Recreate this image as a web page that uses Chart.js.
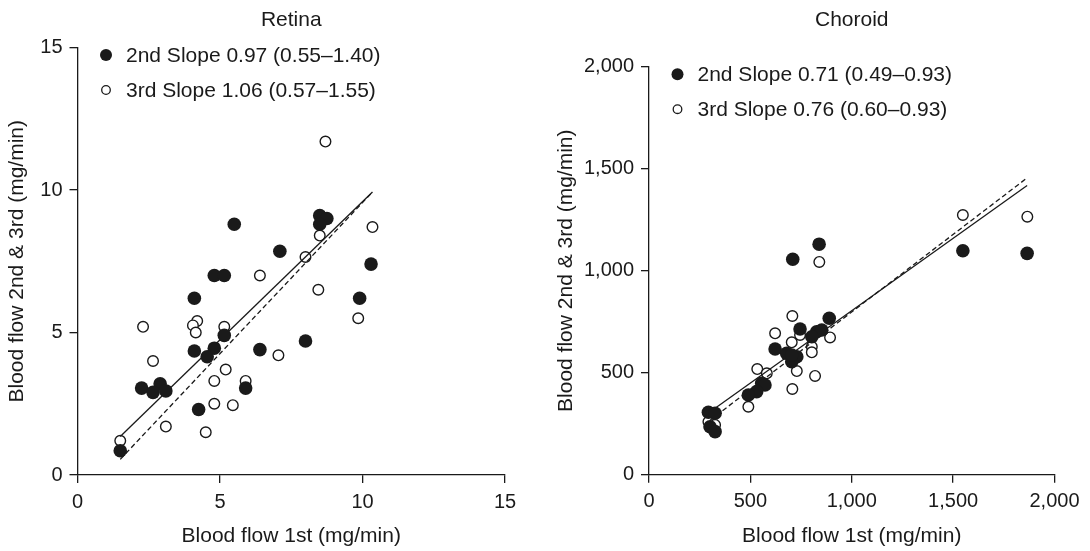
<!DOCTYPE html>
<html>
<head>
<meta charset="utf-8">
<script src="https://cdn.jsdelivr.net/npm/chart.js@4/dist/chart.umd.min.js"></script>
<style>
  html, body { margin: 0; padding: 0; background: #fff; }
  #wrap { position: relative; width: 1090px; height: 551px; }
  canvas { position: absolute; top: 0; }
  #retina  { left: 0; }
  #choroid { left: 545px; }
</style>
</head>
<body>
<div id="wrap">
  <canvas id="retina" width="545" height="551"></canvas>
  <canvas id="choroid" width="545" height="551"></canvas>
</div>
<script>
// ── Data ───────────────────────────────────────────────────────────────────
const retinaTitle  = 'Retina';
const choroidTitle = 'Choroid';
const xTitle = 'Blood flow 1st (mg/min)';
const yTitle = 'Blood flow 2nd & 3rd (mg/min)';

const retinaLegend  = ['2nd Slope 0.97 (0.55–1.40)', '3rd Slope 1.06 (0.57–1.55)'];
const choroidLegend = ['2nd Slope 0.71 (0.49–0.93)', '3rd Slope 0.76 (0.60–0.93)'];

const retinaTicks  = [0, 5, 10, 15];
const choroidTicks = [0, 500, 1000, 1500, 2000];

// [1st, 2nd]
const retina2nd = [
  [8.5, 9.1], [8.75, 9.0], [8.5, 8.8], [5.5, 8.8], [7.1, 7.85], [4.8, 7.0], [5.15, 7.0],
  [10.3, 7.4], [4.1, 6.2], [9.9, 6.2], [5.15, 4.9], [4.1, 4.35], [4.8, 4.45], [4.55, 4.15],
  [6.4, 4.4], [8.0, 4.7], [5.9, 3.05], [2.25, 3.05], [2.9, 3.2], [2.65, 2.9], [3.1, 2.95],
  [4.25, 2.3], [1.5, 0.85]
];
// [1st, 3rd]
const retina3rd = [
  [8.7, 11.7], [8.5, 8.4], [10.35, 8.7], [8.0, 7.65], [6.4, 7.0], [8.45, 6.5], [9.85, 5.5],
  [2.3, 5.2], [4.2, 5.4], [4.05, 5.25], [4.15, 5.0], [5.15, 5.2], [7.05, 4.2], [2.65, 4.0],
  [5.2, 3.7], [4.8, 3.3], [5.9, 3.3], [4.8, 2.5], [5.45, 2.45], [3.1, 1.7], [4.5, 1.5], [1.5, 1.2]
];
const retinaFit2nd = [[1.5, 1.35], [10.35, 9.93]];
const retinaFit3rd = [[1.5, 0.55], [10.35, 9.93]];

const choroid2nd = [
  [1548, 1098], [1865, 1085], [839, 1130], [709, 1056], [889, 767], [745, 714], [827, 701],
  [852, 709], [803, 676], [622, 616], [679, 595], [729, 578], [704, 554], [704, 587],
  [556, 448], [572, 440], [531, 407], [490, 391], [293, 306], [326, 301], [301, 235], [326, 211]
];
const choroid3rd = [
  [1548, 1273], [1866, 1265], [840, 1043], [707, 778], [893, 673], [745, 685], [803, 627],
  [803, 600], [704, 649], [729, 508], [819, 484], [622, 693], [707, 420], [534, 518],
  [581, 497], [490, 333], [293, 260], [326, 244]
];
const choroidFit2nd = [[300, 307], [1865, 1418]];
const choroidFit3rd = [[300, 266], [1865, 1455]];

// ── Styling ────────────────────────────────────────────────────────────────
const FONT = "'Liberation Sans', Arial, Helvetica, sans-serif";
const INK  = '#1a1a1a';
Chart.defaults.font.family = FONT;
Chart.defaults.font.size   = 21;
Chart.defaults.color       = INK;

const toXY = arr => arr.map(([x, y]) => ({ x, y }));

// legend drawn inside the plot, top-left
const slopeLegend = {
  id: 'slopeLegend',
  afterDraw(chart, args, opts) {
    const { ctx, chartArea } = chart;
    ctx.save();
    ctx.font = '21px ' + FONT;
    ctx.textBaseline = 'middle';
    opts.labels.forEach((txt, i) => {
      const y  = chartArea.top + opts.rows[i];
      const mx = chartArea.left + opts.markerX;
      ctx.beginPath();
      ctx.arc(mx, y, i === 0 ? 6 : 4.3, 0, Math.PI * 2);
      if (i === 0) {
        ctx.fillStyle = INK;
        ctx.fill();
      } else {
        ctx.fillStyle = '#fff';
        ctx.fill();
        ctx.lineWidth = 1.3;
        ctx.strokeStyle = INK;
        ctx.stroke();
      }
      ctx.fillStyle = INK;
      ctx.fillText(txt, chartArea.left + opts.textX, y + 1);
    });
    ctx.restore();
  }
};

function axis(ticks, fixed, title, titlePad) {
  return {
    type: 'linear',
    min: ticks[0],
    max: ticks[ticks.length - 1],
    afterBuildTicks: s => { s.ticks = ticks.map(v => ({ value: v })); },
    border: { display: true, color: INK, width: 1.3 },
    grid: { display: true, drawOnChartArea: false, drawTicks: true, tickLength: 8, color: INK, lineWidth: 1.3 },
    ticks: { padding: 7, color: INK, font: { size: 20 } },
    title: { display: true, text: title, color: INK, font: { size: 21 }, padding: titlePad },
    afterFit: fixed,
  };
}

function makeChart(id, c) {
  return new Chart(document.getElementById(id), {
    type: 'scatter',
    data: {
      datasets: [
        { data: toXY(c.pts2), order: 0, pointRadius: 6.8, pointHoverRadius: 6.8,
          backgroundColor: INK, borderColor: INK, borderWidth: 0 },
        { data: toXY(c.fit2), order: 1, showLine: true, pointRadius: 0,
          borderColor: INK, borderWidth: 1.3, fill: false },
        { data: toXY(c.fit3), order: 2, showLine: true, pointRadius: 0,
          borderColor: INK, borderWidth: 1.3, borderDash: [5, 3], fill: false },
        { data: toXY(c.pts3), order: 3, pointRadius: 5.3, pointHoverRadius: 5.3,
          backgroundColor: '#fff', borderColor: INK, borderWidth: 1.4 },
      ],
    },
    options: {
      responsive: false,
      animation: false,
      layout: { padding: { left: 0, right: c.padRight, top: 0, bottom: 0 } },
      plugins: {
        legend: { display: false },
        tooltip: { enabled: false },
        title: {
          display: true, text: c.title, fullSize: false, color: INK,
          font: { size: 21, weight: 'normal' },
          padding: { top: 7.4, bottom: c.titleGap },
        },
        slopeLegend: { labels: c.legend, rows: [7.5, 42.5], markerX: 28.5, textX: 48.5 },
      },
      scales: {
        x: axis(c.xTicks, s => { s.height = c.xHeight; }, xTitle, { top: 0, bottom: 2 }),
        y: axis(c.yTicks, s => { s.width = c.yWidth; }, yTitle, { top: c.yTitlePad, bottom: 0 }),
      },
    },
    plugins: [slopeLegend],
  });
}

makeChart('retina', {
  title: retinaTitle, legend: retinaLegend,
  pts2: retina2nd, pts3: retina3rd, fit2: retinaFit2nd, fit3: retinaFit3rd,
  xTicks: retinaTicks, yTicks: retinaTicks,
  padRight: 40, titleGap: 14.9, xHeight: 76, yWidth: 77.5, yTitlePad: 4.4,
});

makeChart('choroid', {
  title: choroidTitle, legend: choroidLegend,
  pts2: choroid2nd, pts3: choroid3rd, fit2: choroidFit2nd, fit3: choroidFit3rd,
  xTicks: choroidTicks, yTicks: choroidTicks,
  padRight: 35.5, titleGap: 34.1, xHeight: 76.3, yWidth: 104, yTitlePad: 8.4,
});
</script>
</body>
</html>
